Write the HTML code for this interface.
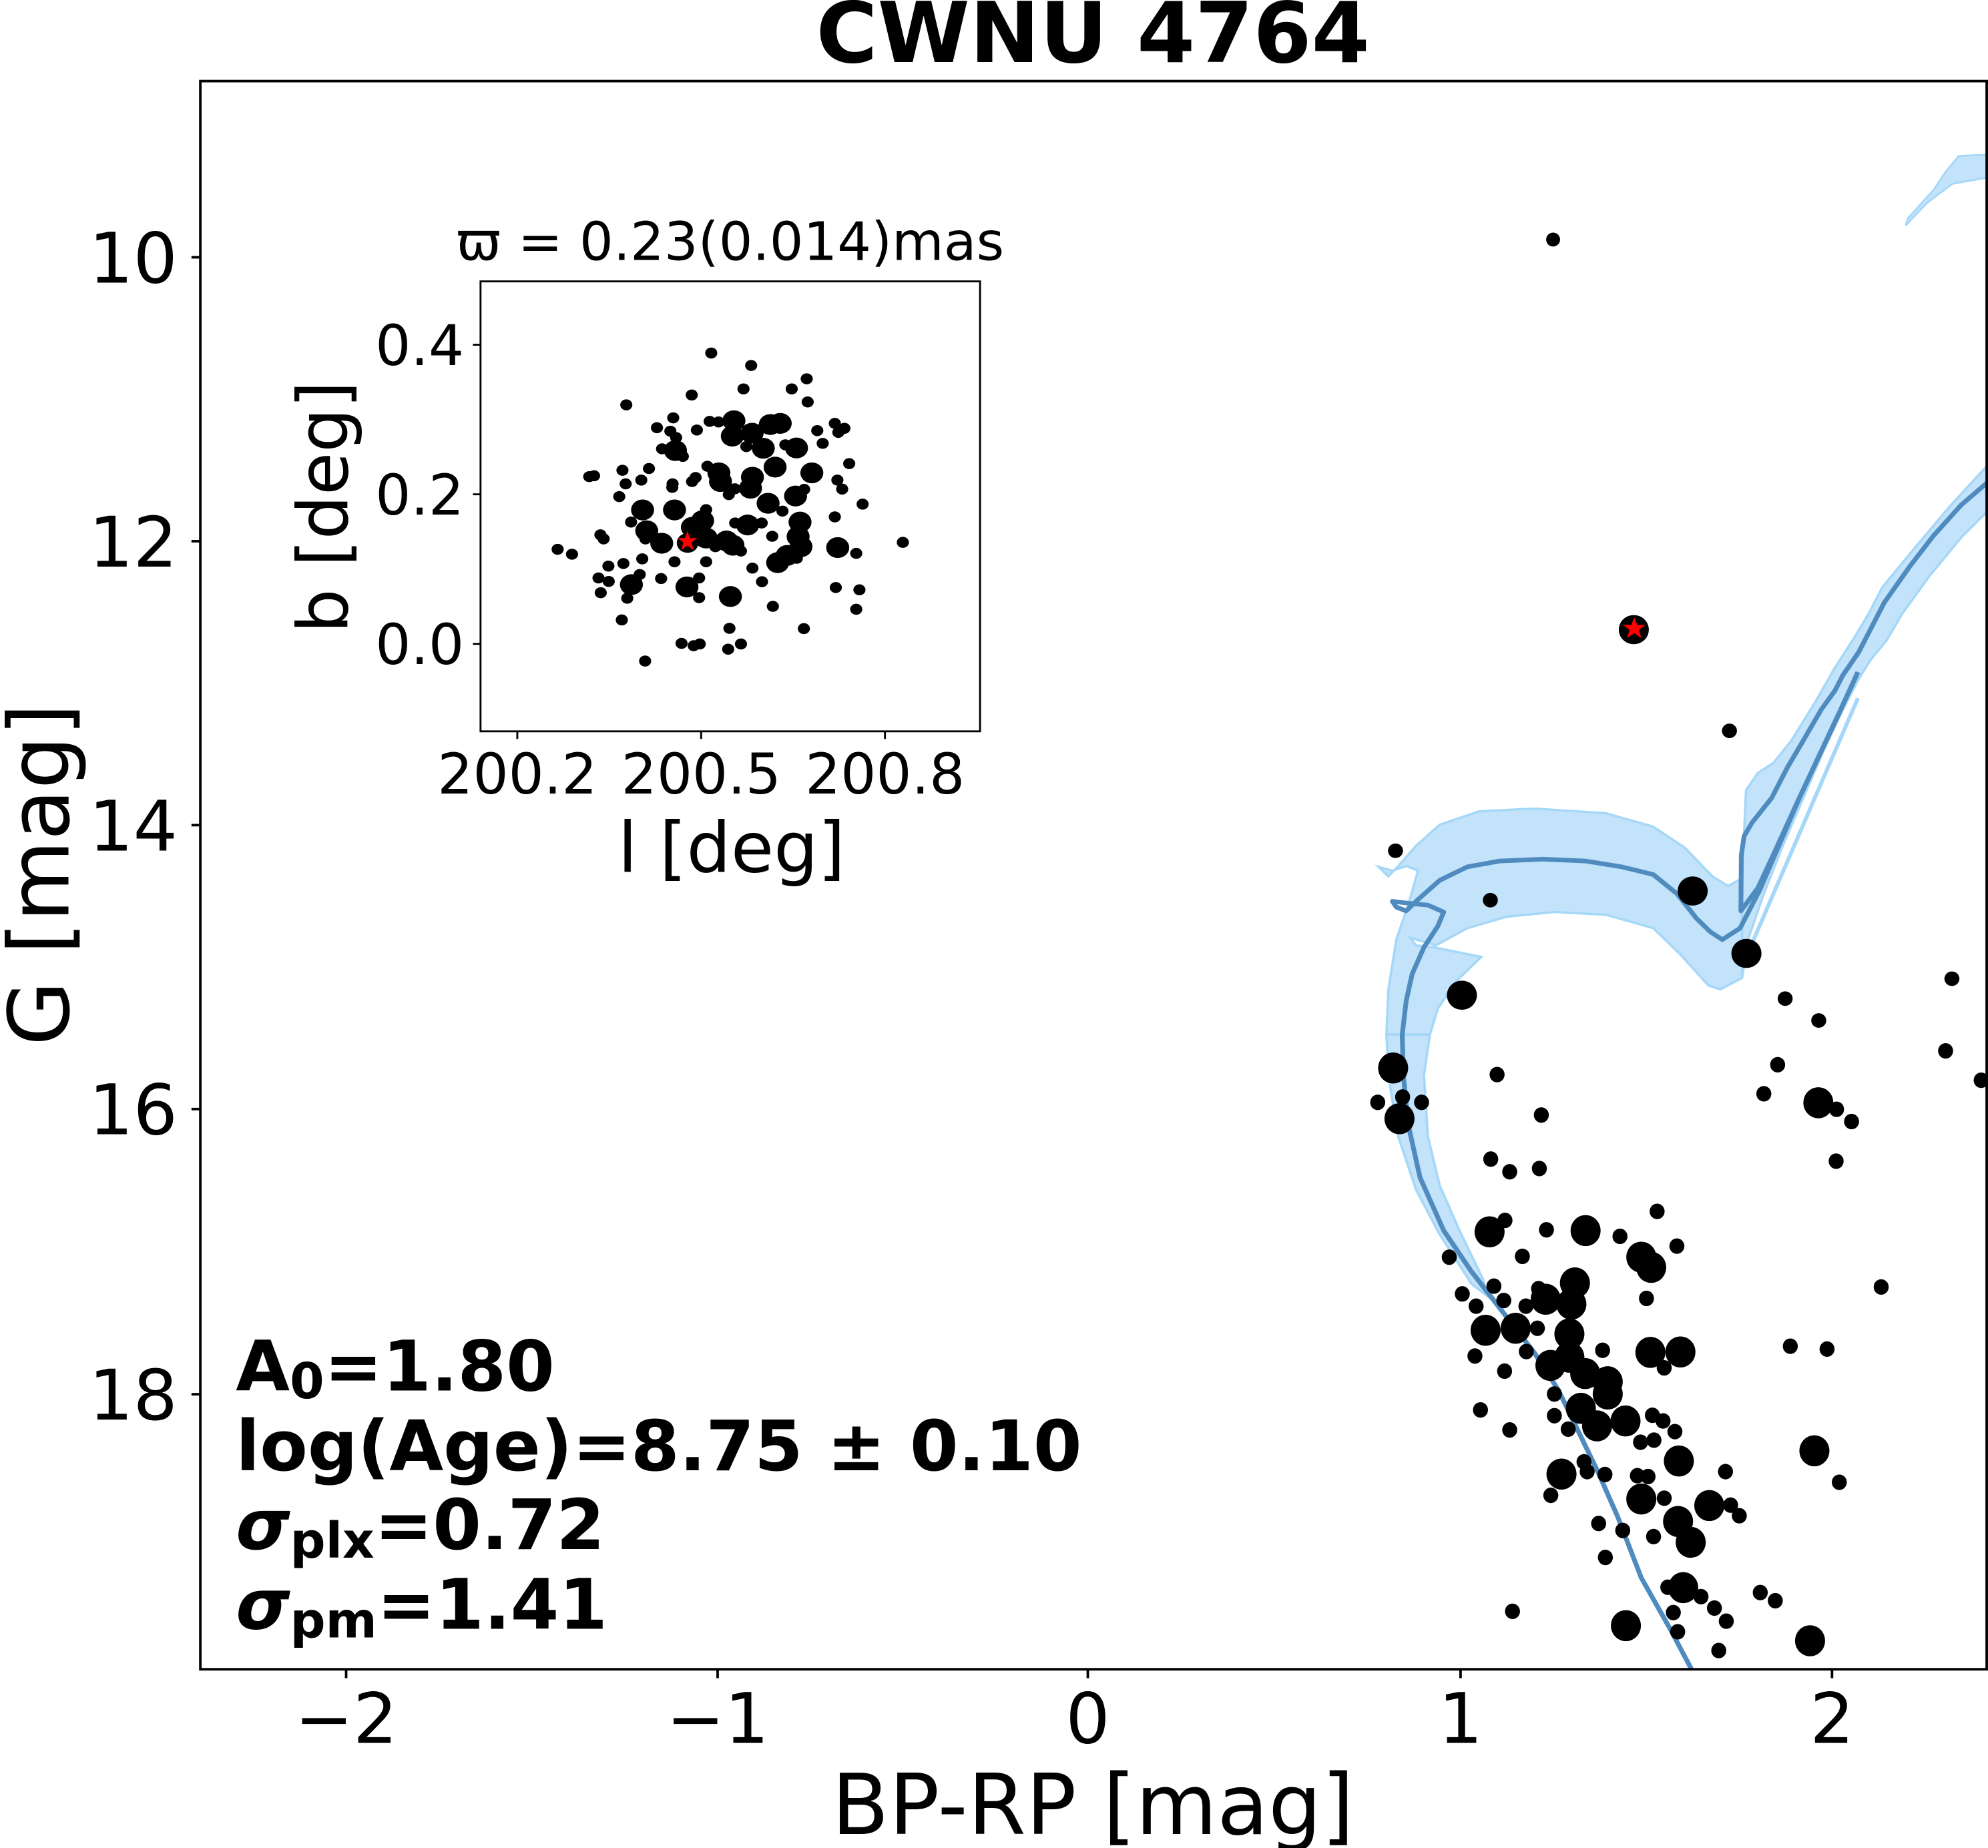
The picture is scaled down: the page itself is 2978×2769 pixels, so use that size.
<!DOCTYPE html>
<html><head><meta charset="utf-8"><style>
html,body{margin:0;padding:0;background:#fff}
svg{display:block}
text{font-family:"DejaVu Sans","Liberation Sans",sans-serif;fill:#000}
</style></head><body>
<svg width="2978" height="2769" viewBox="0 0 1568 1458" xmlns="http://www.w3.org/2000/svg">
<defs>
<clipPath id="ca"><rect x="158" y="64" width="1409" height="1253"/></clipPath>
<clipPath id="ci"><rect x="379" y="222" width="394" height="355"/></clipPath>
</defs>
<rect width="1568" height="1458" fill="#fff"/>
<g clip-path="url(#ca)">
 <g transform="translate(1079.5,342.3) scale(0.3117,0.3023)" fill="#aedaf7" fill-opacity="0.75" stroke="#a5d7f8" stroke-width="6">
  <polygon points="25,1130 50,1155 75,1128 120,1075 180,1020 280,985 420,978 600,990 720,1025 800,1080 870,1155 910,1180 945,1160 945,1420 890,1450 860,1440 790,1360 720,1290 600,1255 470,1248 350,1260 250,1290 170,1335 105,1315 120,1335 165,1340 285,1365 220,1430 175,1500 155,1568 45,1568 50,1450 70,1320 100,1230 125,1140 95,1128 60,1140"/>
  <polygon points="945,1160 955,930 985,885 1025,858 1070,800 1130,700 1180,610 1230,530 1265,470 1300,400 1380,300 1470,190 1568,80 1568,200 1500,270 1420,370 1350,470 1310,540 1270,590 1240,640 1200,720 1150,830 1100,950 1050,1070 1000,1200 960,1320 945,1420"/>
  <polyline points="1238,690 970,1330" fill="none" stroke="#a5d7f8" stroke-width="10"/>
 </g>
 <g transform="translate(1079.5,816.2) scale(0.3117,0.3223)" fill="#aedaf7" fill-opacity="0.75" stroke="#a5d7f8" stroke-width="6">
  <polygon points="45,0 50,100 75,250 120,380 180,490 260,610 300,640 290,600 230,480 180,370 150,250 140,100 155,0"/>
 </g>
 <polygon points="1503,178 1520,160 1540,145 1568,140 1568,122 1545,123 1535,135 1525,150 1505,172" fill="#aedaf7" fill-opacity="0.75" stroke="#a5d7f8" stroke-width="1.5"/>
 <g transform="translate(1079.5,342.3) scale(0.3117,0.3023)" fill="none" stroke="#4f8bbf" stroke-width="12" stroke-linejoin="round">
  <polyline points="1568,125 1500,185 1430,265 1370,345 1305,440 1270,510 1240,570 1200,630 1180,670 1145,720 1100,800 1060,870 1020,950 970,1015 950,1050 943,1100 942,1245 960,1220 985,1185 1010,1130 1050,1040 1090,950 1140,840 1190,730 1238,622"/>
  <polyline points="1238,622 1190,730 1140,840 1090,950 1040,1070 990,1190 940,1290 895,1320 865,1300 830,1265 780,1200 720,1150 640,1130 550,1115 440,1110 330,1115 250,1130 180,1165 120,1220 95,1245 70,1235 60,1220 100,1225 150,1230 190,1248 175,1285 140,1340 110,1410 95,1480 85,1568"/>
 </g>
 <g transform="translate(1079.5,816.2) scale(0.3117,0.3223)" fill="none" stroke="#4f8bbf" stroke-width="12" stroke-linejoin="round">
  <polyline points="85,0 88,100 100,220 130,350 190,480 260,580 340,680 420,780 480,870 530,970 580,1070 630,1180 690,1330 760,1450 815,1550 830,1580"/>
 </g>
 <circle cx="1225" cy="189" r="5.5"/>
 <g transform="translate(1079.5,342.3) scale(0.3117,0.3023)">
  <circle cx="671" cy="511" r="38"/>
  <circle cx="913" cy="775" r="19"/><circle cx="68" cy="1088" r="19"/><circle cx="308" cy="1217" r="19"/>
  <circle cx="820" cy="1193" r="38"/><circle cx="956" cy="1356" r="38"/><circle cx="236" cy="1465" r="38"/>
  <circle cx="1054" cy="1474" r="19"/><circle cx="1139" cy="1531" r="19"/><circle cx="1476" cy="1422" r="19"/>
 </g>
 <g transform="translate(1079.5,816.2) scale(0.3117,0.3223)">
  <circle cx="62" cy="82" r="38"/><circle cx="78" cy="206" r="38"/><circle cx="23" cy="166" r="19"/><circle cx="134" cy="166" r="19"/><circle cx="86" cy="153" r="19"/>
  <circle cx="325" cy="98" r="19"/><circle cx="437" cy="197" r="19"/><circle cx="309" cy="305" r="19"/><circle cx="357" cy="336" r="19"/><circle cx="432" cy="328" r="19"/>
  <circle cx="730" cy="433" r="19"/><circle cx="306" cy="483" r="38"/><circle cx="345" cy="455" r="19"/><circle cx="450" cy="478" r="19"/><circle cx="549" cy="480" r="38"/>
  <circle cx="636" cy="494" r="19"/><circle cx="204" cy="545" r="19"/><circle cx="389" cy="543" r="19"/><circle cx="690" cy="545" r="38"/><circle cx="715" cy="570" r="38"/>
  <circle cx="780" cy="518" r="19"/><circle cx="1297" cy="618" r="19"/><circle cx="522" cy="608" r="38"/><circle cx="448" cy="648" r="38"/><circle cx="513" cy="660" r="38"/>
  <circle cx="430" cy="622" r="19"/><circle cx="237" cy="635" r="19"/><circle cx="317" cy="616" r="19"/><circle cx="342" cy="651" r="19"/><circle cx="272" cy="665" r="19"/>
  <circle cx="398" cy="665" r="19"/><circle cx="703" cy="646" r="19"/><circle cx="296" cy="724" r="38"/><circle cx="372" cy="719" r="38"/><circle cx="427" cy="719" r="19"/>
  <circle cx="508" cy="733" r="38"/><circle cx="713" cy="778" r="38"/><circle cx="789" cy="777" r="38"/><circle cx="1067" cy="763" r="19"/><circle cx="1160" cy="770" r="19"/>
  <circle cx="592" cy="773" r="19"/><circle cx="269" cy="787" r="19"/><circle cx="399" cy="776" r="19"/><circle cx="460" cy="810" r="38"/><circle cx="508" cy="790" r="38"/>
  <circle cx="548" cy="830" r="38"/><circle cx="605" cy="880" r="38"/><circle cx="605" cy="850" r="38"/><circle cx="748" cy="816" r="19"/><circle cx="344" cy="824" r="19"/>
  <circle cx="283" cy="919" r="19"/><circle cx="470" cy="880" r="19"/><circle cx="537" cy="915" r="38"/><circle cx="578" cy="958" r="38"/><circle cx="650" cy="946" r="38"/>
  <circle cx="470" cy="933" r="19"/><circle cx="718" cy="932" r="19"/><circle cx="745" cy="946" r="19"/><circle cx="357" cy="968" r="19"/><circle cx="505" cy="966" r="19"/>
  <circle cx="775" cy="972" r="19"/><circle cx="688" cy="998" r="19"/><circle cx="722" cy="993" r="19"/><circle cx="1128" cy="1019" r="38"/><circle cx="785" cy="1044" r="38"/>
  <circle cx="1191" cy="1096" r="19"/><circle cx="488" cy="1076" r="38"/><circle cx="545" cy="1046" r="19"/><circle cx="553" cy="1070" r="19"/><circle cx="598" cy="1077" r="19"/>
  <circle cx="680" cy="1080" r="19"/><circle cx="707" cy="1082" r="19"/><circle cx="903" cy="1070" r="19"/><circle cx="461" cy="1128" r="19"/><circle cx="690" cy="1137" r="38"/>
  <circle cx="748" cy="1135" r="19"/><circle cx="862" cy="1153" r="38"/><circle cx="916" cy="1152" r="19"/><circle cx="938" cy="1178" r="19"/><circle cx="783" cy="1192" r="38"/>
  <circle cx="815" cy="1243" r="38"/><circle cx="582" cy="1197" r="19"/><circle cx="643" cy="1214" r="19"/><circle cx="721" cy="1229" r="19"/><circle cx="599" cy="1280" r="19"/>
  <circle cx="796" cy="1354" r="38"/><circle cx="757" cy="1353" r="19"/><circle cx="841" cy="1376" r="19"/><circle cx="991" cy="1366" r="19"/><circle cx="1029" cy="1386" r="19"/>
  <circle cx="364" cy="1412" r="19"/><circle cx="771" cy="1415" r="19"/><circle cx="875" cy="1404" r="19"/><circle cx="905" cy="1436" r="19"/><circle cx="651" cy="1447" r="38"/>
  <circle cx="782" cy="1462" r="19"/><circle cx="886" cy="1508" r="19"/><circle cx="1117" cy="1484" r="38"/>
  <circle cx="1460" cy="40" r="19"/><circle cx="1035" cy="74" r="19"/><circle cx="1000" cy="145" r="19"/><circle cx="1138" cy="167" r="38"/><circle cx="1184" cy="183" r="19"/>
  <circle cx="1222" cy="213" r="19"/><circle cx="1183" cy="310" r="19"/><circle cx="1550" cy="112" r="19"/>
 </g>
 <polygon points="1289,487 1291.3,493 1298,493 1292.7,497 1294.6,503.5 1289,499.5 1283.4,503.5 1285.3,497 1280,493 1286.7,493" fill="#ff0000"/>
</g>
<rect x="158" y="64" width="1409" height="1253" fill="none" stroke="#000" stroke-width="2"/>
<g stroke="#000" stroke-width="2">
 <line x1="273" y1="1317" x2="273" y2="1324"/><line x1="566" y1="1317" x2="566" y2="1324"/><line x1="858" y1="1317" x2="858" y2="1324"/><line x1="1152" y1="1317" x2="1152" y2="1324"/><line x1="1445" y1="1317" x2="1445" y2="1324"/>
 <line x1="151" y1="203" x2="158" y2="203"/><line x1="151" y1="427" x2="158" y2="427"/><line x1="151" y1="651" x2="158" y2="651"/><line x1="151" y1="875" x2="158" y2="875"/><line x1="151" y1="1100" x2="158" y2="1100"/>
</g>
<g font-size="55" text-anchor="middle">
 <text x="273" y="1375">−2</text><text x="566" y="1375">−1</text><text x="858" y="1375">0</text><text x="1152" y="1375">1</text><text x="1445" y="1375">2</text>
</g>
<g font-size="55" text-anchor="end">
 <text x="140" y="223">10</text><text x="140" y="447">12</text><text x="140" y="671">14</text><text x="140" y="895">16</text><text x="140" y="1120">18</text>
</g>
<text x="862" y="1447" font-size="66" text-anchor="middle">BP-RP [mag]</text>
<text transform="translate(54,690) rotate(-90)" font-size="66" text-anchor="middle">G [mag]</text>
<text x="862" y="49" font-size="66" font-weight="bold" text-anchor="middle">CWNU 4764</text>
<g font-size="55" font-weight="bold">
 <text x="186" y="1097">A<tspan font-size="39" dy="6">0</tspan><tspan dy="-6">=1.80</tspan></text>
 <text x="186" y="1160">log(Age)=8.75 ± 0.10</text>
 <text x="186" y="1222"><tspan font-style="italic">σ</tspan><tspan font-size="39" dy="7">plx</tspan><tspan dy="-7">=0.72</tspan></text>
 <text x="186" y="1285"><tspan font-style="italic">σ</tspan><tspan font-size="39" dy="7">pm</tspan><tspan dy="-7">=1.41</tspan></text>
</g>
<rect x="379" y="222" width="394" height="355" fill="#fff"/>
<g clip-path="url(#ci)">
<g transform="translate(379.1,221.2) scale(0.2519,0.2284)">
 <circle cx="722" cy="251" r="19"/><circle cx="847" cy="294" r="19"/><circle cx="1021" cy="340" r="19"/><circle cx="974" cy="375" r="19"/><circle cx="823" cy="375" r="19"/><circle cx="661" cy="396" r="19"/><circle cx="1024" cy="420" r="19"/><circle cx="456" cy="430" r="19"/><circle cx="603" cy="475" r="19"/><circle cx="552" cy="509" r="19"/><circle cx="677" cy="517" r="19"/><circle cx="717" cy="487" r="19"/><circle cx="745" cy="489" r="19"/><circle cx="1054" cy="519" r="19"/><circle cx="1109" cy="494" r="19"/><circle cx="1139" cy="511" r="19"/><circle cx="1120" cy="525" r="19"/><circle cx="1071" cy="563" r="19"/><circle cx="594" cy="521" r="19"/><circle cx="612" cy="543" r="19"/><circle cx="568" cy="582" r="19"/><circle cx="633" cy="608" r="19"/><circle cx="832" cy="574" r="19"/><circle cx="954" cy="568" r="19"/><circle cx="1154" cy="633" r="19"/><circle cx="340" cy="678" r="19"/><circle cx="355" cy="675" r="19"/><circle cx="444" cy="656" r="19"/><circle cx="527" cy="650" r="19"/><circle cx="454" cy="703" r="19"/><circle cx="503" cy="690" r="19"/><circle cx="601" cy="703" r="19"/><circle cx="600" cy="715" r="19"/><circle cx="662" cy="695" r="19"/><circle cx="673" cy="681" r="19"/><circle cx="710" cy="642" r="19"/><circle cx="1117" cy="690" r="19"/><circle cx="1132" cy="721" r="19"/><circle cx="434" cy="747" r="19"/><circle cx="777" cy="740" r="19"/><circle cx="796" cy="720" r="19"/><circle cx="1013" cy="722" r="19"/><circle cx="945" cy="797" r="19"/><circle cx="1196" cy="773" r="19"/><circle cx="1109" cy="817" r="19"/><circle cx="471" cy="835" r="19"/><circle cx="706" cy="792" r="19"/><circle cx="797" cy="838" r="19"/><circle cx="880" cy="838" r="19"/><circle cx="375" cy="879" r="19"/><circle cx="385" cy="893" r="19"/><circle cx="913" cy="884" r="19"/><circle cx="241" cy="929" r="19"/><circle cx="286" cy="946" r="19"/><circle cx="1322" cy="905" r="19"/><circle cx="1176" cy="943" r="19"/><circle cx="506" cy="962" r="19"/><circle cx="607" cy="972" r="19"/><circle cx="706" cy="972" r="19"/><circle cx="447" cy="978" r="19"/><circle cx="400" cy="987" r="19"/><circle cx="369" cy="1028" r="19"/><circle cx="401" cy="1040" r="19"/><circle cx="498" cy="1016" r="19"/><circle cx="565" cy="1030" r="19"/><circle cx="684" cy="1028" r="19"/><circle cx="851" cy="994" r="19"/><circle cx="881" cy="1041" r="19"/><circle cx="376" cy="1079" r="19"/><circle cx="459" cy="1098" r="19"/><circle cx="684" cy="1096" r="19"/><circle cx="1112" cy="1061" r="19"/><circle cx="1186" cy="1069" r="19"/><circle cx="915" cy="1126" r="19"/><circle cx="1176" cy="1136" r="19"/><circle cx="442" cy="1173" r="19"/><circle cx="779" cy="1202" r="19"/><circle cx="1012" cy="1203" r="19"/><circle cx="629" cy="1254" r="19"/><circle cx="667" cy="1262" r="19"/><circle cx="686" cy="1256" r="19"/><circle cx="775" cy="1274" r="19"/><circle cx="815" cy="1256" r="19"/><circle cx="515" cy="1315" r="19"/><circle cx="735" cy="920" r="19"/><circle cx="815" cy="935" r="19"/><circle cx="990" cy="960" r="19"/><circle cx="516" cy="893" r="19"/>
 <circle cx="793" cy="485" r="36"/><circle cx="788" cy="538" r="36"/><circle cx="850" cy="528" r="36"/><circle cx="885" cy="580" r="36"/><circle cx="907" cy="498" r="36"/><circle cx="938" cy="494" r="36"/><circle cx="989" cy="579" r="36"/><circle cx="610" cy="588" r="36"/><circle cx="746" cy="665" r="36"/><circle cx="751" cy="695" r="36"/><circle cx="851" cy="680" r="36"/><circle cx="922" cy="645" r="36"/><circle cx="845" cy="718" r="36"/><circle cx="900" cy="770" r="36"/><circle cx="1037" cy="665" r="36"/><circle cx="986" cy="745" r="36"/><circle cx="507" cy="793" r="36"/><circle cx="607" cy="793" r="36"/><circle cx="520" cy="865" r="36"/><circle cx="567" cy="908" r="36"/><circle cx="663" cy="853" r="36"/><circle cx="695" cy="830" r="36"/><circle cx="706" cy="890" r="36"/><circle cx="770" cy="900" r="36"/><circle cx="790" cy="915" r="36"/><circle cx="836" cy="845" r="36"/><circle cx="1000" cy="835" r="36"/><circle cx="994" cy="885" r="36"/><circle cx="1003" cy="920" r="36"/><circle cx="960" cy="950" r="36"/><circle cx="930" cy="975" r="36"/><circle cx="1118" cy="923" r="36"/><circle cx="472" cy="1051" r="36"/><circle cx="646" cy="1059" r="36"/><circle cx="782" cy="1092" r="36"/>
 <circle cx="648" cy="907" r="34"/>
</g>
<polygon points="542.2,419 544.2,424.5 550,424.5 545.4,428 547.1,434 542.2,430.3 537.3,434 539,428 534.4,424.5 540.2,424.5" fill="#ff0000"/>
</g>
<rect x="379" y="222" width="394" height="355" fill="none" stroke="#000" stroke-width="1.5"/>
<g stroke="#000" stroke-width="1.5">
 <line x1="408" y1="577" x2="408" y2="583"/><line x1="553" y1="577" x2="553" y2="583"/><line x1="698" y1="577" x2="698" y2="583"/>
 <line x1="373" y1="272" x2="379" y2="272"/><line x1="373" y1="390" x2="379" y2="390"/><line x1="373" y1="508" x2="379" y2="508"/>
</g>
<g font-size="44" text-anchor="middle">
 <text x="408" y="626">200.2</text><text x="553" y="626">200.5</text><text x="698" y="626">200.8</text>
</g>
<g font-size="44" text-anchor="end">
 <text x="366" y="288">0.4</text><text x="366" y="406">0.2</text><text x="366" y="524">0.0</text>
</g>
<text x="577" y="688" font-size="55" text-anchor="middle">l [deg]</text>
<text transform="translate(274,400) rotate(-90)" font-size="55" text-anchor="middle">b [deg]</text>
<text x="576" y="205" font-size="42" text-anchor="middle">ϖ = 0.23(0.014)mas</text>
</svg>
</body></html>
